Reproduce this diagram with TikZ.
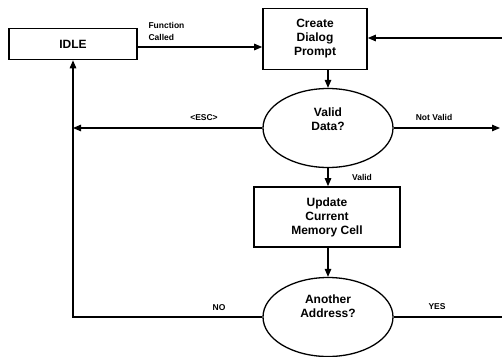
\documentclass[tikz,border=0pt]{standalone}
\usepackage{fontspec}
\setmainfont{Liberation Sans}
\usetikzlibrary{arrows.meta,shapes.geometric}

\begin{document}
\begin{tikzpicture}[x=1pt,y=-1pt,
  proc/.style={draw, line width=1.6pt, align=center, font=\fontsize{12}{14}\selectfont\bfseries},
  ask/.style={draw, ellipse, line width=1.3pt, minimum width=130pt, minimum height=79pt, inner sep=0pt},
  asktext/.style={align=center, font=\fontsize{12}{14.5}\selectfont\bfseries},
  flow/.style={line width=1.2pt, -{Triangle[length=8pt,width=6.5pt]}},
  wire/.style={line width=1.2pt},
  tag/.style={font=\fontsize{8.5}{12}\selectfont\bfseries}]
\useasboundingbox (0,0) rectangle (502,356);
% boxes and questions
\node[proc, minimum width=128pt, minimum height=31pt] (idle) at (73,44) {IDLE};
\node[proc, minimum width=104pt, minimum height=61pt] (create) at (315,39) {Create\\Dialog\\Prompt};
\node[ask, label={[asktext, yshift=9pt]center:Valid\\Data?}] (valid) at (328,128) {};
\node[proc, minimum width=146pt, minimum height=60pt] (update) at (327,217) {Update\\Current\\Memory Cell};
\node[ask, label={[asktext, yshift=11pt]center:Another\\Address?}] (another) at (328,317) {};
% loose ends at the right margin
\coordinate (back) at (502,38);
\coordinate (notvalid) at (500,128);
\coordinate (more) at (502,317);
% connectors
\draw[flow] ([yshift=-3pt]idle.east) -- ([yshift=-3pt]create.west |- idle.east);
\draw[flow] (back) -- (create.east |- back);
\draw[flow] (valid.north |- create.south) -- (valid.north);
\draw[flow] (valid.west) -- (idle.south |- valid.west);
\draw[flow] (valid.east) -- (notvalid);
\draw[flow] (valid.south) -- (update.north -| valid.south);
\draw[flow] (another.north |- update.south) -- (another.north);
\draw[flow] (another.west) -- (idle.south |- another.west) -- (idle.south);
\draw[wire] (another.east) -- (more);
% labels
\node[tag, anchor=west, align=left] (called) at (145,31) {Function\\Called};
\node[tag] (esc) at (204,118) {<ESC>};
\node[tag] (nv) at (434,117) {Not Valid};
\node[tag] (ok) at (362,177) {Valid};
\node[tag] (no) at (219,308) {NO};
\node[tag] (yes) at (437,307) {YES};
\end{tikzpicture}
\end{document}
